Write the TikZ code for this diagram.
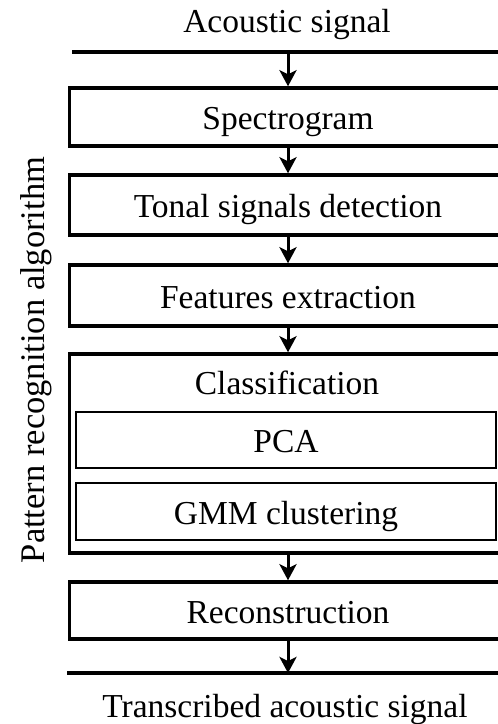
\documentclass[tikz,border=0pt]{standalone}
\usepackage{fontspec}
\setmainfont{Liberation Serif}
\usetikzlibrary{arrows.meta}
\begin{document}
\begin{tikzpicture}[x=1pt,y=-1pt,
  lbl/.style={font=\fontsize{33.5}{40}\selectfont, inner sep=0pt, anchor=base},
  stage/.style={draw, line width=3.5pt, minimum width=437pt, inner sep=0pt,
    font=\fontsize{33.5}{40}\selectfont, text height=25pt, text depth=0pt},
  subbox/.style={draw, line width=2pt, minimum width=420pt, inner sep=0pt,
    font=\fontsize{33.5}{40}\selectfont, text height=25pt, text depth=0pt},
  arr/.style={line width=3pt, -{Stealth[length=16pt,width=17pt,inset=4pt]}},
  rule/.style={line width=3.5pt}]
\useasboundingbox (0,0) rectangle (498,724);
\clip (0,0) rectangle (498,724);

\node[lbl] (src) at (287,32) {Acoustic signal};
\coordinate (tl) at (72,52);
\coordinate (tr) at (530,52);
\coordinate (tin) at (288,52);
\draw[rule] (tl) -- (tr);

\node[stage, minimum height=58pt] (spec) at (288,117) {Spectrogram};
\node[stage, minimum height=60pt] (tonal) at (288,205) {Tonal signals detection};
\node[stage, minimum height=61pt] (feat) at (288,295.5) {Features extraction};
\node[stage, minimum height=199pt] (classbox) at (288,453.5) {};
\node[lbl] (classlabel) at (287,394) {Classification};
\node[subbox, minimum height=56pt] (pca) at (286,440) {PCA};
\node[subbox, minimum height=57pt] (gmm) at (286,511.5) {GMM clustering};
\node[stage, minimum height=57pt] (recon) at (288,610.5) {Reconstruction};

\coordinate (bl) at (67,673);
\coordinate (br) at (530,673);
\coordinate (bout) at (288,673);
\draw[rule] (bl) -- (br);
\node[lbl] (dst) at (285,717) {Transcribed acoustic signal};

\node[lbl, font=\fontsize{34.5}{40}\selectfont, rotate=90] (alg) at (45,360) {Pattern recognition algorithm};

\draw[arr] (tin) -- (spec.north);
\draw[arr] (spec.south) -- (tonal.north);
\draw[arr] (tonal.south) -- (feat.north);
\draw[arr] (feat.south) -- (classbox.north);
\draw[arr] (classbox.south) -- (recon.north);
\draw[arr] (recon.south) -- (bout);
\end{tikzpicture}
\end{document}
